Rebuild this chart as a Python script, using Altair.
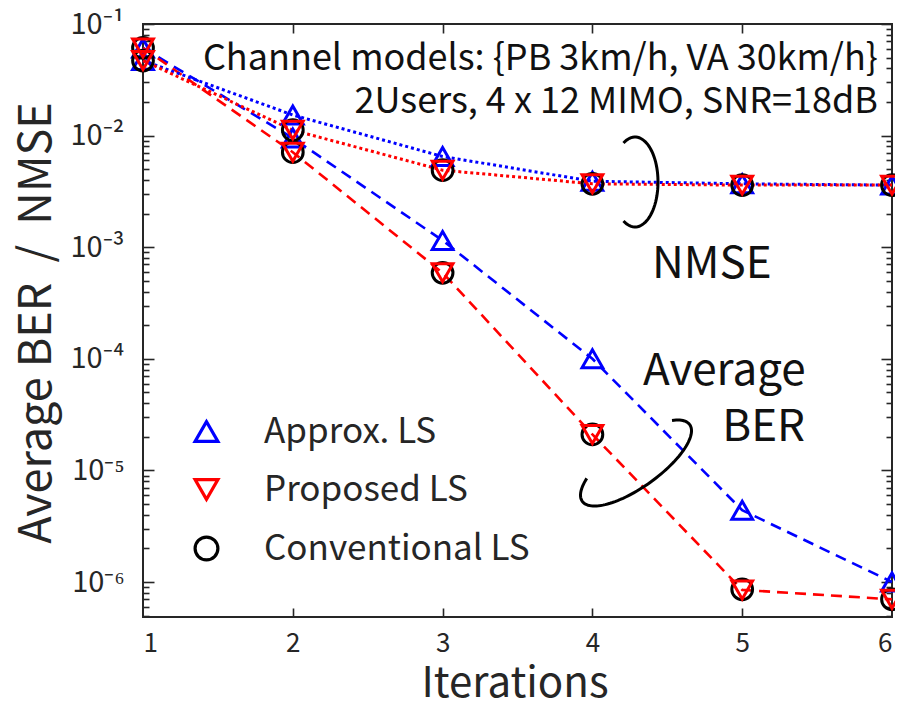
import altair as alt
import pandas as pd
import numpy as np

FONT = "Noto Sans CJK JP"
INK = "#262626"

iters = [1, 2, 3, 4, 5, 6]
methods = ["Approx. LS", "Proposed LS", "Conventional LS"]
colors = ["#0000ff", "#ff0000", "#000000"]
shapes = ["triangle-up", "triangle-down", "circle"]

ber_approx = [0.061, 0.0095, 1.15e-3, 1.0e-4, 4.4e-6, 1.0e-6]
ber_proposed = [0.061, 0.0071, 5.9e-4, 2.1e-5, 8.5e-7, 7.0e-7]
ber_conv = [0.061, 0.0071, 5.9e-4, 2.1e-5, 8.6e-7, 7.0e-7]
nmse_approx = [0.047, 0.0153, 0.0065, 0.0039, 0.0037, 0.0036]
nmse_proposed = [0.047, 0.0112, 0.0049, 0.0037, 0.0036, 0.0036]
nmse_conv = [0.047, 0.0112, 0.0049, 0.0037, 0.0036, 0.0036]

rows = []
# drawing order: approx, conventional, proposed (red on top)
for m, ber, nmse in [("Approx. LS", ber_approx, nmse_approx),
                     ("Conventional LS", ber_conv, nmse_conv),
                     ("Proposed LS", ber_proposed, nmse_proposed)]:
    for i, b, n in zip(iters, ber, nmse):
        rows.append({"it": i, "method": m, "metric": "BER", "val": b})
        rows.append({"it": i, "method": m, "metric": "NMSE", "val": n})
df = pd.DataFrame(rows)

W, H = 749, 593
XMIN, XMAX = 1, 6
YMIN, YMAX = 4.86e-7, 0.1
xs = alt.Scale(domain=[XMIN, XMAX], nice=False, zero=False)
ys = alt.Scale(type="log", domain=[YMIN, YMAX], nice=False)
cs = alt.Scale(domain=methods, range=colors)
ss = alt.Scale(domain=methods, range=shapes)

# annotation brackets (pixel geometry relative to plot -> data space)
PX_UNIT = W / (XMAX - XMIN)
PX_DEC = H / (np.log10(YMAX) - np.log10(YMIN))


def to_data(px, py):
    return XMIN + px / PX_UNIT, 10 ** (np.log10(YMAX) - py / PX_DEC)


arc_rows = []
t = np.radians(np.linspace(-120, 120, 60))
cx, cy, rx, ry = 635 - 143, 182 - 24, 23, 45
for k, tt in enumerate(t):
    x, y = to_data(cx + rx * np.cos(tt), cy + ry * np.sin(tt))
    arc_rows.append({"g": "n", "k": k, "x": x, "y": y})
phi = np.radians(-35.5)
u = (np.cos(phi), np.sin(phi))
v = (-np.sin(phi), np.cos(phi))
cx, cy, a, b = 636 - 143, 463 - 24, 66, 24
t = np.radians(np.linspace(-35, 222, 90))
for k, tt in enumerate(t):
    px = cx + a * np.cos(tt) * u[0] + b * np.sin(tt) * v[0]
    py = cy + a * np.cos(tt) * u[1] + b * np.sin(tt) * v[1]
    x, y = to_data(px, py)
    arc_rows.append({"g": "b", "k": k, "x": x, "y": y})
arcs_df = pd.DataFrame(arc_rows)

major = [1e-6, 1e-5, 1e-4, 1e-3, 1e-2, 1e-1]
minor = [float(f"{k}e{e}") for e in range(-7, -1) for k in range(2, 10)
         if YMIN <= k * 10.0 ** e <= YMAX]
yticks = major + minor
xticks = [2, 3, 4, 5]
TEST = "abs(log(datum.value)/LN10 - round(log(datum.value)/LN10)) < 0.001"

label_expr = ("'10' + '\u207b' + substring('\u2070\u00b9\u00b2\u00b3\u2074\u2075\u2076\u2077\u2078\u2079', "
              "round(-log(datum.value)/LN10), round(-log(datum.value)/LN10)+1)")

y_main = alt.Axis(orient="left", values=major, labelExpr=label_expr, ticks=False,
                  domain=False, grid=False, labelFont=FONT, labelFontSize=29,
                  labelColor=INK, labelPadding=19,
                  title="Average BER\u00a0\u00a0/\u00a0\u00a0NMSE", titleFont=FONT,
                  titleFontSize=45, titleFontWeight="normal", titleColor=INK,
                  titleX=-107, titleY=H / 2 + 2, titleAngle=-90, titleBaseline="middle",
                  titleAlign="center")
x_main = alt.Axis(orient="bottom", values=iters, format="d", ticks=False, domain=False,
                  grid=False, labelFont=FONT, labelFontSize=26, labelColor=INK,
                  labelPadding=13, title="Iterations", titleFont=FONT,
                  titleFontSize=42, titleFontWeight="normal", titleColor=INK,
                  titleX=W / 2 - 3, titleY=79, titleBaseline="alphabetic")


def tick_axis(orient, offset, values, big, small):
    return alt.Axis(orient=orient, offset=offset, values=values, labels=False,
                    domain=False, grid=False, title=None, tickColor=INK,
                    tickWidth=1.6,
                    tickSize={"condition": {"test": TEST, "value": big}, "value": small})


def series_line(method, metric, color, dash, sw, axis_x=None, axis_y=None):
    sub = df[(df["method"] == method) & (df["metric"] == metric)]
    return alt.Chart(sub).mark_line(strokeDash=dash, strokeWidth=sw, color=color).encode(
        x=alt.X("it:Q", scale=xs, axis=axis_x),
        y=alt.Y("val:Q", scale=ys, axis=axis_y))


lines = [
    series_line("Approx. LS", "BER", "#0000ff", [11, 7], 2.6, x_main, y_main),
    series_line("Proposed LS", "BER", "#ff0000", [11, 7], 2.6),
    series_line("Approx. LS", "NMSE", "#0000ff", [3, 3], 3),
    series_line("Proposed LS", "NMSE", "#ff0000", [3, 3], 3),
]

arcs = alt.Chart(arcs_df).mark_line(color="black", strokeWidth=3).encode(
    x=alt.X("x:Q", scale=xs, axis=None),
    y=alt.Y("y:Q", scale=ys, axis=None),
    detail="g:N", order="k:Q")

leg = alt.Legend(orient="none", legendX=46, legendY=390, title=None, labelFont=FONT,
                 labelFontSize=35, labelColor=INK, labelLimit=500, symbolSize=520,
                 symbolStrokeWidth=3.2, rowPadding=22, labelOffset=40, padding=0)

points = alt.Chart(df).mark_point(filled=False, size=430, strokeWidth=3, opacity=1).encode(
    x=alt.X("it:Q", scale=xs, axis=None),
    y=alt.Y("val:Q", scale=ys, axis=None),
    color=alt.Color("method:N", scale=cs, legend=leg),
    shape=alt.Shape("method:N", scale=ss, legend=leg))

ax_dummy = alt.Chart(pd.DataFrame({"x": [XMIN], "y": [YMAX]})).mark_point(opacity=0)
ax1 = ax_dummy.encode(
    x=alt.X("x:Q", scale=xs, axis=tick_axis("top", -H, xticks, 9, 9)),
    y=alt.Y("y:Q", scale=ys, axis=tick_axis("right", -W, yticks, 11, 6)))
ax2 = ax_dummy.encode(
    x=alt.X("x:Q", scale=xs, axis=tick_axis("bottom", -H, xticks, 9, 9)),
    y=alt.Y("y:Q", scale=ys, axis=tick_axis("left", -W, yticks, 11, 6)))


def label(txt, x, y, size, align="left"):
    return alt.Chart(pd.DataFrame({"t": [txt]})).mark_text(
        font=FONT, fontSize=size, color="#111111", align=align,
        baseline="alphabetic").encode(text="t:N", x=alt.value(x), y=alt.value(y))


texts = [
    label("Channel models: {PB 3km/h, VA 30km/h}", 735, 46, 36, "right"),
    label("2Users, 4 x 12 MIMO, SNR=18dB", 735, 89, 36, "right"),
    label("NMSE", 509, 254, 44),
    label("Average", 500, 361, 44),
    label("BER", 662, 417, 44, "right"),
]

chart = alt.layer(*lines, arcs, points, ax1, ax2, *texts).resolve_axis(
    x="independent", y="independent").properties(
    width=W, height=H,
    padding={"left": 135, "top": 16, "right": 3, "bottom": 82},
    autosize=alt.AutoSizeParams(type="none"),
    background="white").configure_view(stroke=INK, strokeWidth=2)

chart.save("out.html", embed_options={"renderer": "svg", "actions": False})
